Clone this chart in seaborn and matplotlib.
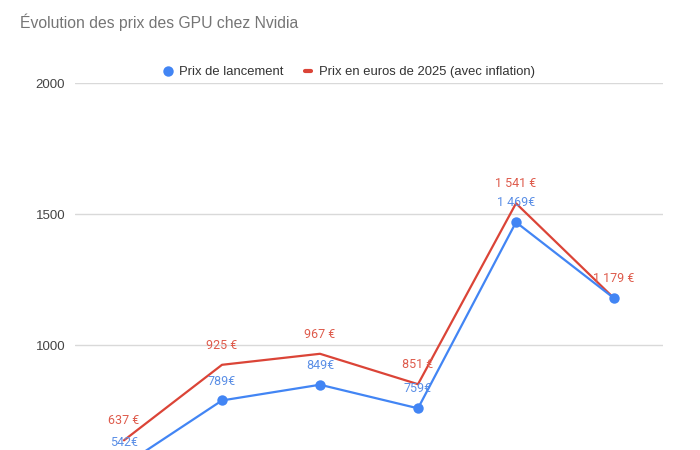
import matplotlib
matplotlib.use("Agg")
import matplotlib.pyplot as plt
from matplotlib.lines import Line2D
import seaborn as sns
import pandas as pd

# Data (GPU generations; x-axis labels are cropped out of the picture)
gpus = ["GTX 980", "GTX 1080", "RTX 2080", "RTX 3080", "RTX 4080", "RTX 5080"]
launch_price = [542, 789, 849, 759, 1469, 1179]
price_2025 = [637, 925, 967, 851, 1541, 1179]
y_ticks = [1000, 1500, 2000]

BLUE = "#4285F4"
RED = "#DB4437"

sns.set_style("white")
plt.rcParams["font.family"] = ["Liberation Sans", "DejaVu Sans"]

df = pd.DataFrame({"gpu": gpus, "launch": launch_price, "infl": price_2025})

fig = plt.figure(figsize=(7, 4.5), dpi=100)
ax = fig.add_axes([75 / 700, 0.0, 588 / 700, 1 - 83 / 450])

sns.lineplot(data=df, x="gpu", y="infl", ax=ax, color=RED, linewidth=1.6, sort=False)
sns.lineplot(data=df, x="gpu", y="launch", ax=ax, color=BLUE, linewidth=1.6, sort=False,
             marker="o", markersize=7.5, markeredgewidth=0)

ax.set_xlim(-0.5, len(gpus) - 0.5)
ax.set_ylim(600, 2000)
ax.set_yticks(y_ticks)
ax.set_yticklabels([str(t) for t in y_ticks], fontsize=9.5, color="#444444")
ax.tick_params(axis="y", length=0, pad=7)
ax.tick_params(axis="x", length=0, labelbottom=False)  # x axis is below the visible area
ax.set_xlabel("")
ax.set_ylabel("")
ax.grid(axis="y", color="#d9d9d9", linewidth=1)
ax.set_axisbelow(True)
for s in ax.spines.values():
    s.set_visible(False)

# data labels
for i, v in enumerate(price_2025):
    txt = f"{v:,}".replace(",", " ") + " €"
    ax.annotate(txt, (i, v), xytext=(0, 14), textcoords="offset points",
                ha="center", va="center", fontsize=9, color="#DE5B4C",
                family="Roboto", annotation_clip=False)
for i, v in enumerate(launch_price):
    if i == len(launch_price) - 1:
        continue  # hidden behind the red label in the original
    txt = f"{v:,}".replace(",", " ") + "€"
    # first label sits at the bottom edge, lift it a bit so it stays readable
    dy = 16.5 if v < ax.get_ylim()[0] else 14
    ax.annotate(txt, (i, v), xytext=(0, dy), textcoords="offset points",
                ha="center", va="center", fontsize=9, color="#5B8FE6",
                family="Roboto", annotation_clip=False)

fig.text(20 / 700, 1 - 22 / 450, "Évolution des prix des GPU chez Nvidia",
         fontsize=11.3, color="#757575", va="center", ha="left")

handles = [
    Line2D([], [], color=BLUE, marker="o", linestyle="none", markersize=7.5, markeredgewidth=0),
    Line2D([], [], color=RED, linewidth=3),
]
fig.legend(handles, ["Prix de lancement", "Prix en euros de 2025 (avec inflation)"],
           loc="center", bbox_to_anchor=(350 / 700, 1 - 72 / 450), ncol=2, frameon=False,
           fontsize=9.4, handlelength=0.5, handletextpad=0.6, columnspacing=1.6,
           labelcolor="#333333")

fig.savefig("out.png", dpi=100)
